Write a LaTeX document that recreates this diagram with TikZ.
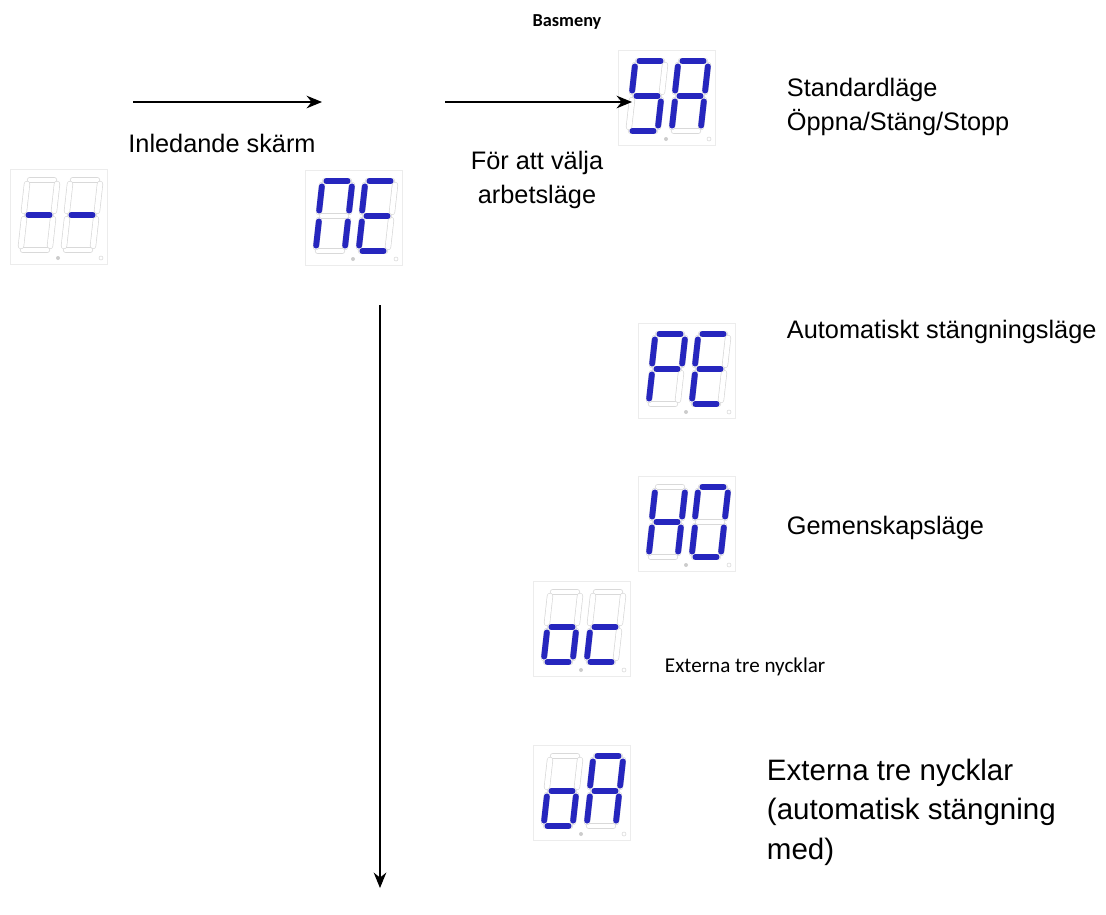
\documentclass[tikz,border=0pt]{standalone}
\usepackage{fontspec}
\setmainfont{Liberation Sans}
\newfontfamily\calibri{Carlito}
\usetikzlibrary{arrows.meta}
\tikzset{
    segon/.style={draw=blue!70!black!85, line width=4.2pt, line cap=round, shorten <=1pt, shorten >=1pt},
    segoff/.style={draw=gray!30, line width=0.5pt, double=white, double distance=3.5pt, line cap=round},
    dispbox/.style={draw=gray!15, minimum width=97\pxu, minimum height=95\pxu, inner sep=0pt},
    lbl/.style={font=\fontsize{18}{22}\selectfont, align=left, anchor=west},
    arr/.style={-{Stealth[length=11pt, width=9pt]}, thick}
}
\newdimen\pxu \pxu=0.025cm
% segment paths of one digit, pixel units, y downwards
\def\segA{(10,0)--(34,0)}
\def\segB{(37,4)--(34,31)}
\def\segC{(33,39)--(30,66)}
\def\segD{(3,70)--(27,70)}
\def\segE{(4,39)--(1,66)}
\def\segF{(7,4)--(4,31)}
\def\segG{(7,35)--(31,35)}
% \segdisp{name}{x}{y}{segments digit 1}{segments digit 2}
\newcommand{\segdisp}[5]{
  \node[dispbox] (#1) at (#2+49,#3+47) {};
  \begin{scope}[shift={(#2+10,#3+10)}]
    \foreach \s in {A,B,C,D,E,F,G} {\draw[segoff] \csname seg\s\endcsname;}
    \foreach \s in {#4} {\draw[segon] \csname seg\s\endcsname;}
    \fill[gray!40] (38,78) circle (2);
  \end{scope}
  \begin{scope}[shift={(#2+53,#3+10)}]
    \foreach \s in {A,B,C,D,E,F,G} {\draw[segoff] \csname seg\s\endcsname;}
    \foreach \s in {#5} {\draw[segon] \csname seg\s\endcsname;}
    \draw[gray!30] (38,78) circle (2);
  \end{scope}
}
\begin{document}
\begin{tikzpicture}[x=0.025cm, y=-0.025cm]
\useasboundingbox (0,0) rectangle (1106,915);

% Displays
\segdisp{dash}{10}{170}{G}{G}
\segdisp{ne}{305}{171}{A,B,C,E,F}{A,D,E,F,G}
\segdisp{sa}{618}{51}{A,F,G,C,D}{A,B,C,E,F,G}
\segdisp{pe}{638}{324}{A,B,E,F,G}{A,D,E,F,G}
\segdisp{ho}{638}{477}{B,C,E,F,G}{A,B,C,D,E,F}
\segdisp{oc}{533}{582}{C,D,E,G}{D,E,G}
\segdisp{oa}{533}{746}{C,D,E,G}{A,B,C,E,F,G}

% Arrows
\coordinate (a1s) at (133,102);
\coordinate (a1e) at (322,102);
\coordinate (a2s) at (445,102);
\coordinate (a2e) at (632,102);
\coordinate (dns) at (380,305);
\coordinate (dne) at (380,888);
\draw[arr] (a1s) -- (a1e);
\draw[arr] (a2s) -- (a2e);
\draw[arr] (dns) -- (dne);

% Labels
\node[font=\calibri\bfseries\fontsize{13}{15}\selectfont] (basmeny) at (567,22) {Basmeny};
\node[lbl, anchor=center] (inled) at (222,143) {Inledande skärm};
\node[lbl, align=center, anchor=center] (valja) at (537,180) {För att välja\\[2pt]arbetsläge};
\node[lbl] (std) at (782,107) {Standardläge\\[2pt]Öppna/Stäng/Stopp};
\node[lbl] (auto) at (782,332) {Automatiskt stängningsläge};
\node[lbl] (gem) at (782,528) {Gemenskapsläge};
\node[font=\calibri\fontsize{15}{18}\selectfont, anchor=west] (ext1) at (660,667) {Externa tre nycklar};
\node[lbl, font=\fontsize{21}{28}\selectfont] (ext2) at (762,812) {Externa tre nycklar\\(automatisk stängning\\med)};
\end{tikzpicture}
\end{document}
